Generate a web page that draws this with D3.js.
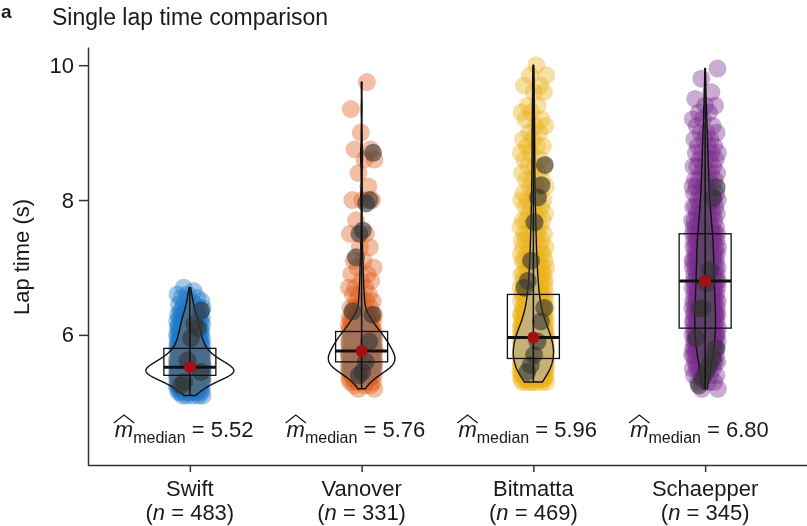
<!DOCTYPE html>
<html>
<head>
<meta charset="utf-8">
<script src="https://cdn.jsdelivr.net/npm/d3@7"></script>
<style>
  body { margin: 0; background: #fff; }
  svg { display: block; background: #fff; }
  text { font-family: "Liberation Sans", Arial, Helvetica, sans-serif; fill: #1a1a1a; }
  .violin-fill { mix-blend-mode: saturation; }
</style>
</head>
<body>
<svg id="chart" width="807" height="526"></svg>
<script>
// ---- data ---------------------------------------------------------------
const riders = ["Swift", "Vanover", "Bitmatta", "Schaepper"];
const sampleSizes = [483, 331, 469, 345];
const medianLapTimes = [5.52, 5.76, 5.96, 6.80];
const riderColors = ["#2078c8", "#df5f1f", "#ebb11c", "#7b2d8e"];
const yTicks = [6, 8, 10];

// lap-time histograms per rider: [lap time (s), number of laps]
const swiftLaps = [
  [5.10, 5], [5.15, 8], [5.20, 12], [5.25, 17], [5.30, 22], [5.35, 30], [5.40, 40],
  [5.45, 46], [5.50, 44], [5.55, 36], [5.60, 30], [5.65, 26], [5.70, 20], [5.75, 17],
  [5.80, 15], [5.85, 13], [5.90, 12], [5.95, 11], [6.00, 10], [6.05, 10], [6.10, 9],
  [6.15, 8], [6.20, 8], [6.25, 7], [6.30, 6], [6.35, 5], [6.40, 4], [6.45, 3],
  [6.50, 3], [6.55, 2], [6.60, 2], [6.65, 1], [6.70, 1]
];
const vanoverLaps = [
  [5.20, 2], [5.25, 3], [5.30, 5], [5.35, 7], [5.40, 10], [5.45, 14], [5.50, 18],
  [5.55, 22], [5.60, 22], [5.65, 21], [5.70, 21], [5.75, 20], [5.80, 18], [5.85, 17],
  [5.90, 16], [5.95, 15], [6.00, 14], [6.05, 11], [6.10, 9], [6.15, 8], [6.20, 7],
  [6.25, 6], [6.30, 5], [6.40, 4], [6.50, 4], [6.60, 3], [6.70, 3], [6.80, 2],
  [6.90, 2], [7.00, 2], [7.10, 2], [7.30, 2], [7.50, 2], [7.70, 1], [8.00, 3],
  [8.20, 1], [8.40, 1], [8.60, 2], [8.75, 2], [9.00, 1], [9.35, 1], [9.75, 1]
];
const bitmattaLaps = [
  [5.30, 7], [5.35, 12], [5.40, 15], [5.45, 17], [5.50, 18], [5.55, 18], [5.60, 18],
  [5.65, 18], [5.70, 19], [5.75, 19], [5.80, 19], [5.85, 18], [5.90, 18], [5.95, 18],
  [6.00, 16], [6.05, 14], [6.10, 13], [6.15, 12], [6.20, 11], [6.30, 16], [6.40, 14],
  [6.50, 11], [6.60, 11], [6.70, 8], [6.80, 8], [6.90, 8], [7.00, 7], [7.10, 6],
  [7.20, 6], [7.30, 5], [7.40, 5], [7.50, 5], [7.60, 4], [7.70, 4], [7.80, 4],
  [7.90, 3], [8.00, 4], [8.10, 3], [8.20, 3], [8.30, 3], [8.40, 2], [8.50, 3],
  [8.60, 2], [8.70, 2], [8.80, 3], [8.90, 2], [9.00, 2], [9.10, 2], [9.20, 2],
  [9.30, 2], [9.40, 2], [9.60, 2], [9.70, 2], [9.85, 2], [10.00, 1]
];
const schaepperLaps = [
  [5.20, 2], [5.30, 3], [5.40, 5], [5.50, 7], [5.60, 9], [5.70, 11], [5.80, 13],
  [5.90, 14], [6.00, 14], [6.10, 14], [6.20, 14], [6.30, 14], [6.40, 13], [6.50, 13],
  [6.60, 12], [6.70, 12], [6.80, 11], [6.90, 11], [7.00, 11], [7.10, 11], [7.20, 11],
  [7.30, 11], [7.40, 11], [7.50, 12], [7.60, 8], [7.70, 7], [7.80, 7], [7.90, 6],
  [8.00, 6], [8.10, 5], [8.20, 5], [8.30, 5], [8.40, 4], [8.50, 4], [8.60, 4],
  [8.70, 4], [8.80, 3], [8.90, 3], [9.00, 3], [9.10, 2], [9.20, 2], [9.30, 2],
  [9.40, 2], [9.50, 1], [9.60, 1], [9.80, 1], [9.95, 1]
];

// laps drawn as dark markers on top of the violins
const swiftDarkLaps = [6.36, 6.10, 6.16, 5.95, 5.62, 5.30, 5.25, 5.45];
const vanoverDarkLaps = [8.70, 8.00, 7.95, 7.55, 7.50, 7.15, 6.35, 6.30, 5.90, 5.60, 5.45, 5.40];
const bitmattaDarkLaps = [8.52, 8.22, 8.04, 7.67, 7.10, 6.80, 6.70, 6.40, 6.20, 5.90, 5.70, 5.55, 5.45];
const schaepperDarkLaps = [8.19, 8.03, 6.96, 6.76, 6.40, 6.39, 5.95, 5.80, 5.65, 5.55, 5.45, 5.35, 5.25];

const lapHistograms = [swiftLaps, vanoverLaps, bitmattaLaps, schaepperLaps];
const darkLaps = [swiftDarkLaps, vanoverDarkLaps, bitmattaDarkLaps, schaepperDarkLaps];

// ---- layout -------------------------------------------------------------
const svg = d3.select("#chart");
const plotLeft = 88, plotRight = 807, plotTop = 47, plotBottom = 465;

const x = d3.scalePoint().domain(riders).range([plotLeft, plotRight]).padding(0.593);
const y = d3.scaleLinear().domain([4.07, 10.27]).range([plotBottom, plotTop]);

// ---- statistics -----------------------------------------------------------
function expand(hist) {
  return hist.flatMap(([t, c]) => d3.range(c).map(() => t));
}
function kde(values) {
  const sorted = values.slice().sort(d3.ascending);
  const n = sorted.length;
  const sd = d3.deviation(sorted);
  const iqr = d3.quantileSorted(sorted, 0.75) - d3.quantileSorted(sorted, 0.25);
  const bw = 0.9 * Math.min(sd, iqr / 1.34) * Math.pow(n, -0.2);
  const lo = sorted[0], hi = sorted[n - 1];
  return d3.range(0, 257).map(k => {
    const t = lo + (hi - lo) * k / 256;
    let s = 0;
    for (const v of sorted) { const u = (t - v) / bw; s += Math.exp(-0.5 * u * u); }
    return [t, s / (n * bw * Math.sqrt(2 * Math.PI))];
  });
}

const groups = riders.map((name, i) => {
  const values = expand(lapHistograms[i]).sort(d3.ascending);
  return {
    name, i, values,
    color: riderColors[i],
    n: sampleSizes[i],
    median: medianLapTimes[i],
    q1: d3.quantileSorted(values, 0.25),
    q3: d3.quantileSorted(values, 0.75),
    min: values[0],
    max: values[values.length - 1],
    density: kde(values),
    dark: darkLaps[i]
  };
});

const maxDensity = d3.max(groups, g => d3.max(g.density, d => d[1]));
const halfWidth = d3.scaleLinear().domain([0, maxDensity]).range([0, 44]);

// deterministic horizontal spread of the points
const jitter = 13;
const spread = k => ((k * 0.6180339887 + 0.37) % 1 - 0.5) * 2 * jitter;

// ---- marks --------------------------------------------------------------
const plot = svg.append("g");

groups.forEach(g => {
  const cx = x(g.name);
  const layer = plot.append("g");

  layer.selectAll("circle.lap")
    .data(g.values)
    .join("circle")
    .attr("class", "lap")
    .attr("cx", (d, k) => cx + spread(k))
    .attr("cy", d => y(d))
    .attr("r", 9)
    .attr("fill", g.color)
    .attr("fill-opacity", 0.4);

  // violin outline (trimmed to the observed range, flat ends)
  const pts = g.density.map(d => [cx - halfWidth(d[1]), y(d[0])])
    .concat(g.density.slice().reverse().map(d => [cx + halfWidth(d[1]), y(d[0])]));
  const outline = d3.line().x(d => d[0]).y(d => d[1]);
  layer.append("path")
    .attr("class", "violin-fill")
    .attr("d", outline(pts) + "Z")
    .attr("fill", "#808080")
    .attr("fill-opacity", 0.6);
  layer.append("path")
    .attr("d", outline(pts) + "Z")
    .attr("fill", "none")
    .attr("stroke", "#111")
    .attr("stroke-width", 1.4)
    .attr("stroke-linejoin", "round");

  layer.selectAll("circle.dark")
    .data(g.dark)
    .join("circle")
    .attr("class", "dark")
    .attr("cx", (d, k) => cx + spread(k * 3 + 1) * 0.9)
    .attr("cy", d => y(d))
    .attr("r", 9)
    .attr("fill", "#333")
    .attr("fill-opacity", 0.6);

  // whisker line from fastest to slowest lap
  layer.append("line")
    .attr("x1", cx).attr("x2", cx)
    .attr("y1", y(g.min)).attr("y2", y(g.max))
    .attr("stroke", "#111").attr("stroke-width", 1.5);

  const boxW = 52;
  layer.append("rect")
    .attr("x", cx - boxW / 2)
    .attr("y", y(g.q3))
    .attr("width", boxW)
    .attr("height", y(g.q1) - y(g.q3))
    .attr("fill", "none")
    .attr("stroke", "#111")
    .attr("stroke-width", 1.3);
  layer.append("line")
    .attr("x1", cx - boxW / 2).attr("x2", cx + boxW / 2)
    .attr("y1", y(g.median)).attr("y2", y(g.median))
    .attr("stroke", "#111").attr("stroke-width", 3);

  layer.append("circle")
    .attr("cx", cx).attr("cy", y(g.median))
    .attr("r", 6)
    .attr("fill", "#a50f15");

  // median annotation
  const ann = layer.append("text")
    .attr("x", cx - 75)
    .attr("y", 437)
    .attr("font-size", 22);
  ann.append("tspan").attr("font-style", "italic").text("m");
  ann.append("tspan").attr("font-size", 16).attr("dy", 6).text("median");
  ann.append("tspan").attr("dy", -6).text(" = " + d3.format(".2f")(g.median));
  const node = ann.node();
  const s = node.getStartPositionOfChar(0);
  const e = node.getEndPositionOfChar(0);
  layer.append("path")
    .attr("d", `M${s.x - 1},423 L${(s.x + e.x) / 2},415 L${e.x + 1},423`)
    .attr("fill", "none")
    .attr("stroke", "#1a1a1a")
    .attr("stroke-width", 1.3);
});

// ---- axes ---------------------------------------------------------------
const yAxis = svg.append("g")
  .attr("transform", `translate(${plotLeft},0)`)
  .call(d3.axisLeft(y).tickValues(yTicks).tickFormat(d3.format("d")).tickSize(9).tickPadding(5).tickSizeOuter(0));
yAxis.selectAll("text").attr("font-size", 22).style("fill", "#1a1a1a").attr("font-family", null);

const xAxis = svg.append("g")
  .attr("transform", `translate(0,${plotBottom})`)
  .call(d3.axisBottom(x).tickSize(7).tickSizeOuter(0).tickFormat(""));
xAxis.select(".domain").attr("d", `M${plotLeft},0.5H${plotRight}`);

[yAxis, xAxis].forEach(a => {
  a.select(".domain").attr("stroke", "#333").attr("stroke-width", 1.5);
  a.selectAll(".tick line").attr("stroke", "#333").attr("stroke-width", 1.5);
});

groups.forEach(g => {
  const lbl = svg.append("text")
    .attr("text-anchor", "middle")
    .attr("font-size", 22);
  lbl.append("tspan").attr("x", x(g.name)).attr("y", 496).text(g.name);
  const l2 = lbl.append("tspan").attr("x", x(g.name)).attr("y", 520);
  l2.append("tspan").text("(");
  l2.append("tspan").attr("font-style", "italic").text("n");
  l2.append("tspan").text(` = ${g.n})`);
});

svg.append("text")
  .attr("transform", "translate(29,257) rotate(-90)")
  .attr("text-anchor", "middle")
  .attr("font-size", 22)
  .text("Lap time (s)");

svg.append("text")
  .attr("x", 52).attr("y", 25)
  .attr("font-size", 23)
  .text("Single lap time comparison");

svg.append("text")
  .attr("x", 1).attr("y", 17.5)
  .attr("font-size", 19)
  .attr("font-weight", "bold")
  .text("a");
</script>
</body>
</html>
